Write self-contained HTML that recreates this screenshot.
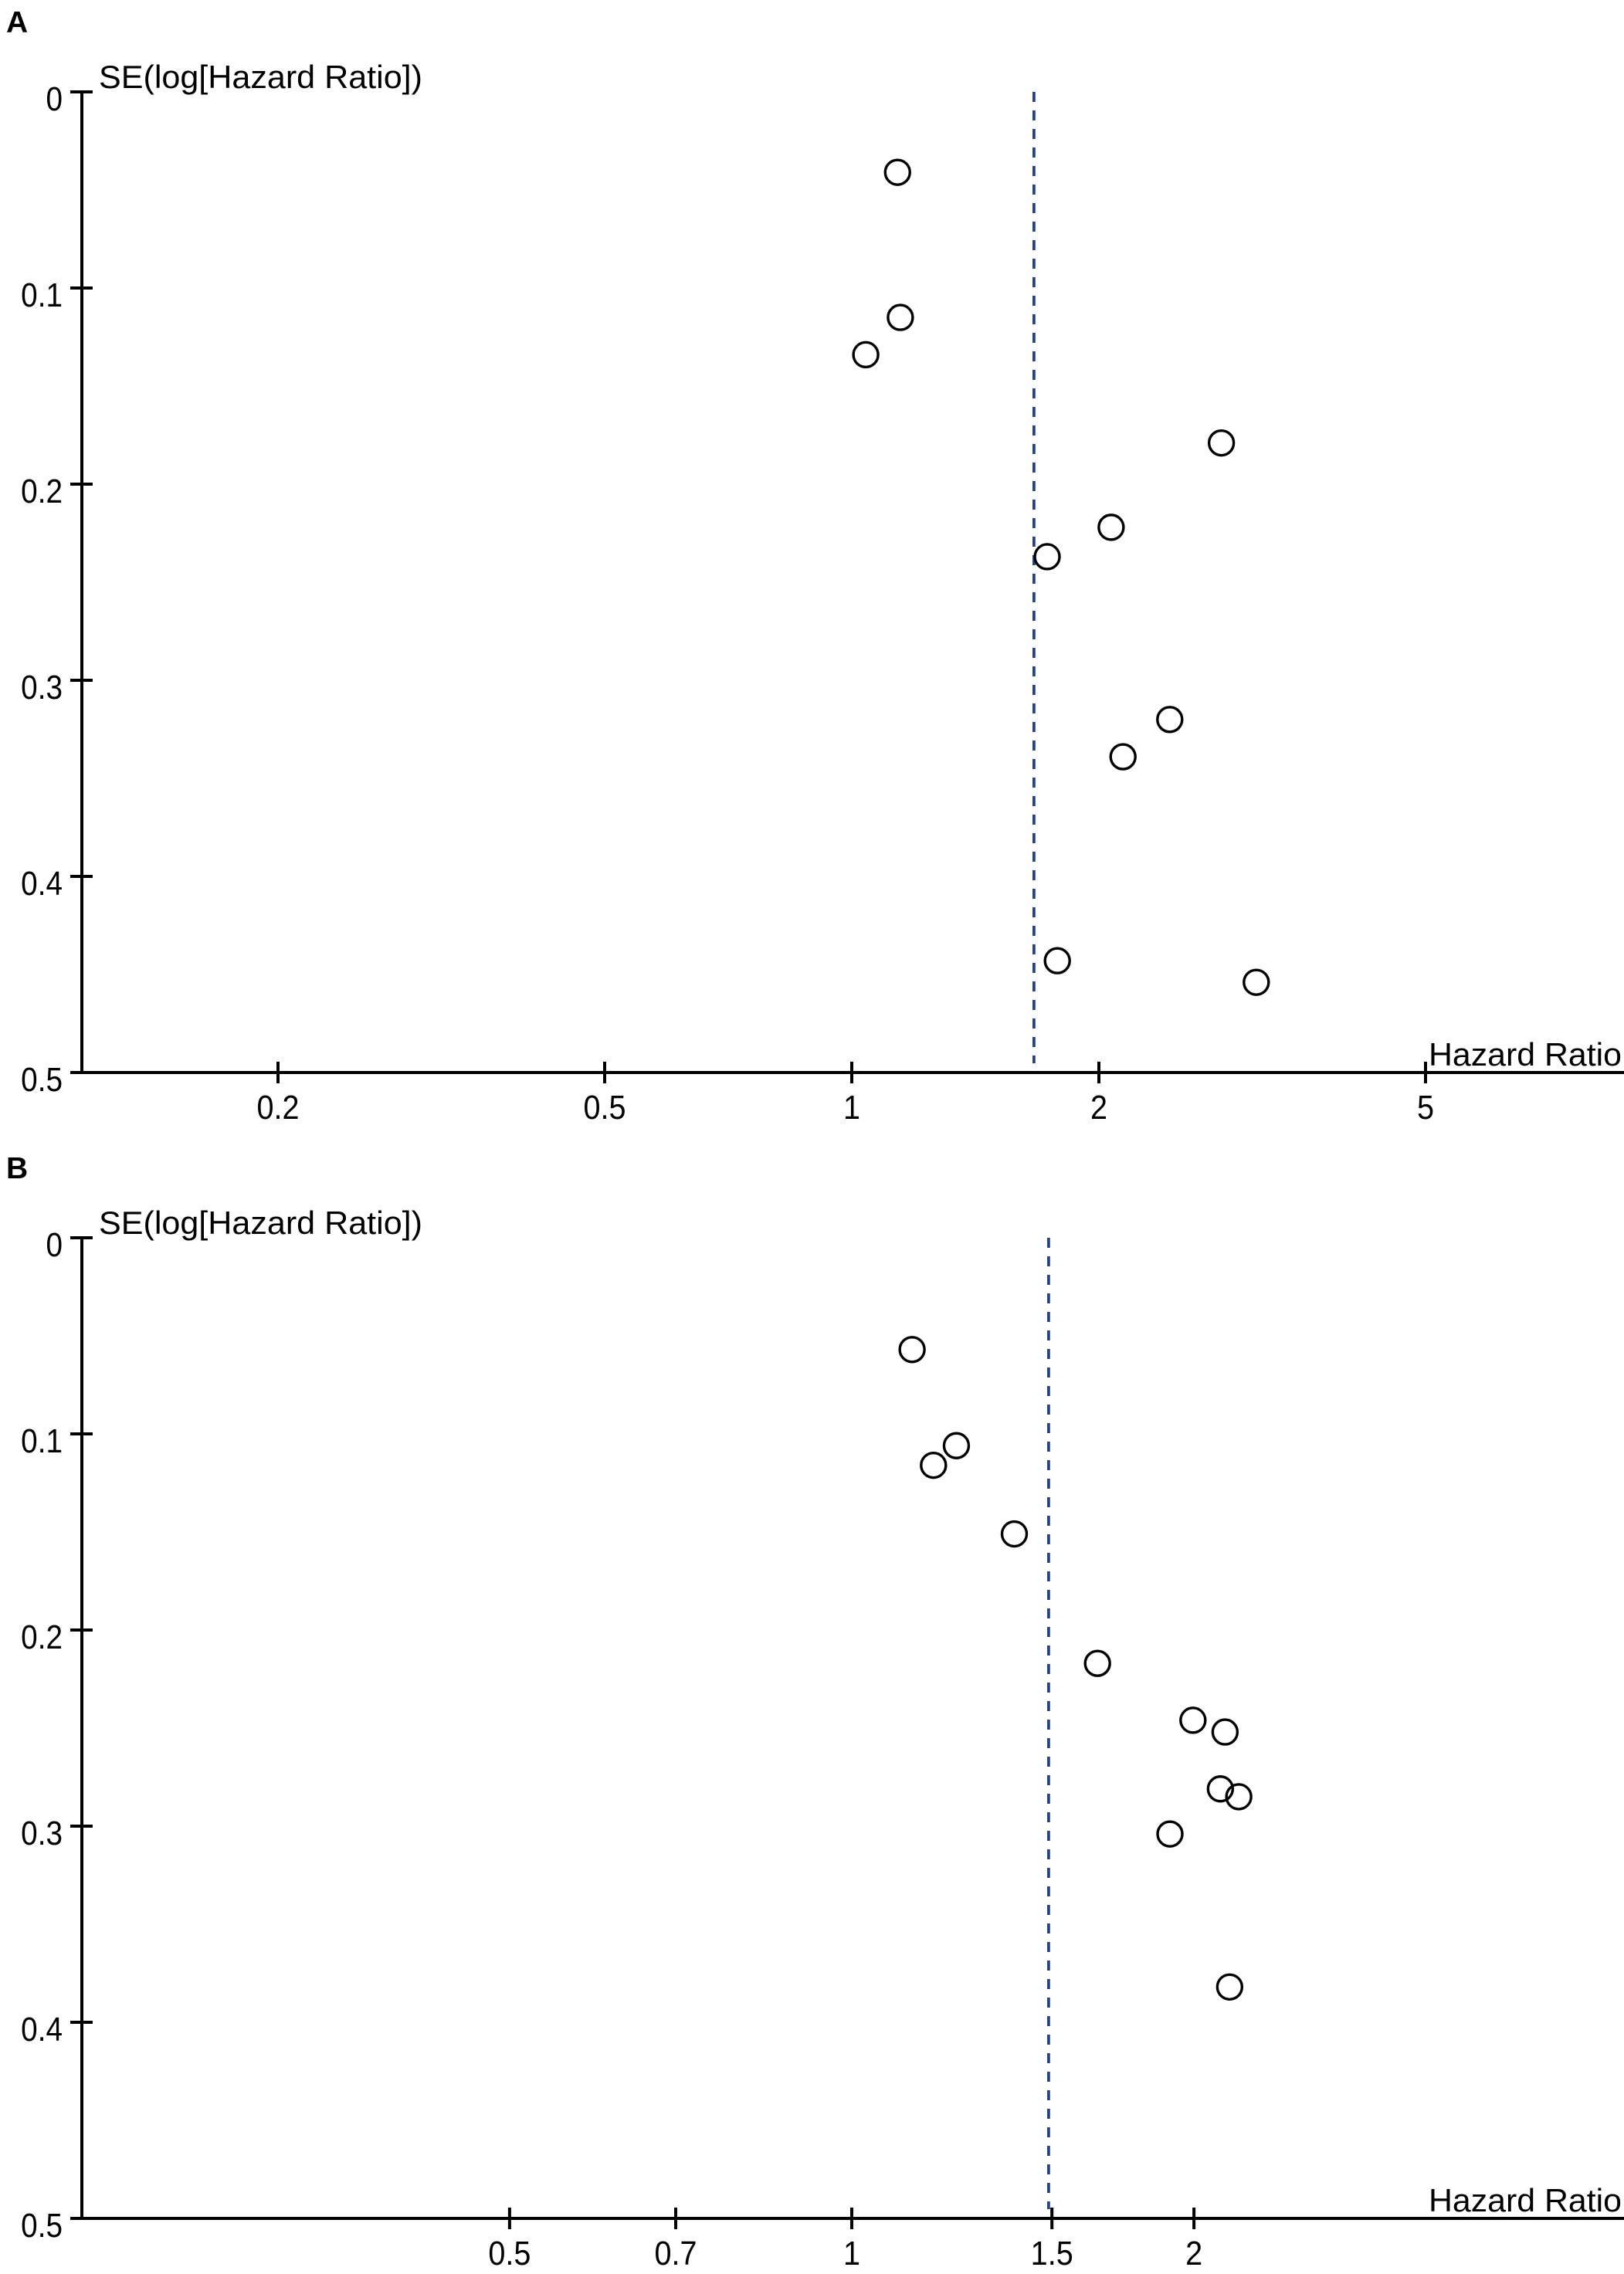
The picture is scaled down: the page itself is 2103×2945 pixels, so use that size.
<!DOCTYPE html>
<html><head><meta charset="utf-8"><style>
html,body{margin:0;padding:0;background:#fff;}
svg text{font-family:"Liberation Sans",Arial,sans-serif;fill:#000;}
</style></head><body>
<svg id="fig" width="2103" height="2940" xmlns="http://www.w3.org/2000/svg"></svg>
<script>
// Panel A data
const aTicks = [0.2, 0.5, 1, 2, 5];
const aTickLabels = ["0.2", "0.5", "1", "2", "5"];
const aHR = [1.137, 1.146, 1.04, 2.82, 2.07, 1.73, 2.44, 2.14, 1.78, 3.11];
const aSE = [0.041, 0.115, 0.134, 0.179, 0.222, 0.237, 0.320, 0.339, 0.443, 0.454];
const aPooled = 1.667;
// Panel B data
const bTicks = [0.5, 0.7, 1, 1.5, 2];
const bTickLabels = ["0.5", "0.7", "1", "1.5", "2"];
const bHR = [1.13, 1.236, 1.18, 1.39, 1.645, 1.996, 2.13, 2.11, 2.19, 1.905, 2.15];
const bSE = [0.057, 0.106, 0.116, 0.151, 0.217, 0.246, 0.252, 0.281, 0.285, 0.304, 0.382];
const bPooled = 1.49;
const seTicks = [0, 0.1, 0.2, 0.3, 0.4, 0.5];
const seTickLabels = ["0", "0.1", "0.2", "0.3", "0.4", "0.5"];

const NS = "http://www.w3.org/2000/svg";
const svg = document.getElementById('fig');
function mk(tag, attrs, parent){
  const e = document.createElementNS(NS, tag);
  for (const k in attrs) e.setAttribute(k, attrs[k]);
  (parent||svg).appendChild(e);
  return e;
}
function condense(t, f){
  const w = t.getComputedTextLength();
  t.setAttribute('textLength', w * f);
  t.setAttribute('lengthAdjust', 'spacingAndGlyphs');
}

function panel(p){
  const g = mk('g', {});
  
  
  const X0 = 106, y0 = p.y0, perUnit = 2540;
  const yS = v => y0 + v * perUnit;
  const yEnd = yS(0.5);
  const xS = v => p.x1 + Math.log10(v) * p.perDecade;

  const lab = mk('text', {x: 8, y: y0 - 77, 'font-size': 39, 'font-weight': 'bold'}, g);
  lab.textContent = p.id;
  
  

  const yt = mk('text', {x: 128, y: y0 - 5, 'font-size': 42, textLength: 419, lengthAdjust: 'spacingAndGlyphs'}, g);
  yt.textContent = 'SE(log[Hazard Ratio])';
  
  

  const ya = mk('line', {x1: X0, y1: y0, x2: X0, y2: yEnd, stroke: '#000', 'stroke-width': 4}, g);
  
  
  seTicks.forEach((v, i) => {
    const t = mk('line', {x1: 91, y1: yS(v), x2: (i === 0 ? 120 : (i === 5 ? X0 : 120)), y2: yS(v), stroke: '#000', 'stroke-width': 4}, g);
    
    
    const tl = mk('text', {x: 81, y: yS(v) + 24, 'font-size': 44, 'text-anchor': 'end'}, g);
    tl.textContent = seTickLabels[i];
    
    
    condense(tl, 0.88);
  });

  const xa = mk('line', {x1: X0 - 2, y1: yEnd, x2: 2103, y2: yEnd, stroke: '#000', 'stroke-width': 4}, g);
  
  
  p.ticks.forEach((v, i) => {
    const t = mk('line', {x1: xS(v), y1: yEnd - 14, x2: xS(v), y2: yEnd + 14, stroke: '#000', 'stroke-width': 4}, g);
    
    
    const tl = mk('text', {x: xS(v), y: yEnd + 60, 'font-size': 44, 'text-anchor': 'middle'}, g);
    tl.textContent = p.labels[i];
    
    
    condense(tl, 0.9);
  });
  const xt = mk('text', {x: 1850, y: yEnd - 9, 'font-size': 42, textLength: 250, lengthAdjust: 'spacingAndGlyphs'}, g);
  xt.textContent = 'Hazard Ratio';
  
  

  const pl = mk('line', {x1: xS(p.pooled), y1: y0, x2: xS(p.pooled), y2: yEnd - 12, stroke: '#1F3C99', 'stroke-width': 3.7, 'stroke-dasharray': '13 11'}, g);
  
  

  p.hr.forEach((v, i) => {
    const c = mk('circle', {cx: xS(v), cy: yS(p.se[i]), r: 16, fill: 'none', stroke: '#000', 'stroke-width': 3.4}, g);
    
    
  });
}

panel({id: 'A', y0: 119, x1: 1103, perDecade: 1063, ticks: aTicks, labels: aTickLabels, hr: aHR, se: aSE, pooled: aPooled});
panel({id: 'B', y0: 1603, x1: 1103, perDecade: 1472, ticks: bTicks, labels: bTickLabels, hr: bHR, se: bSE, pooled: bPooled});
</script>
</body></html>
